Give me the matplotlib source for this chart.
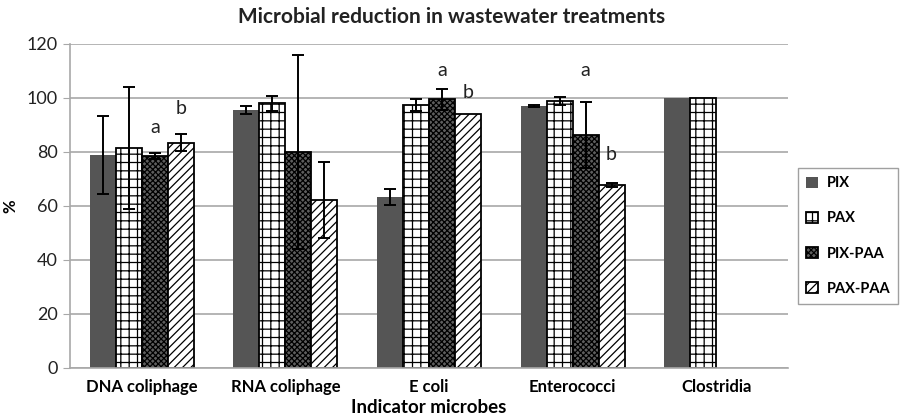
import numpy as np
import matplotlib
matplotlib.use("Agg")
import matplotlib.pyplot as plt

categories = ["DNA coliphage", "RNA coliphage", "E coli", "Enterococci", "Clostridia"]
series = ["PIX", "PAX", "PIX-PAA", "PAX-PAA"]
pix = [79, 95.6, 63.3, 97, 100]
pax = [81.5, 98, 97.5, 98.8, 100]
pix_paa = [78.5, 80, 99.5, 86.3, np.nan]
pax_paa = [83.5, 62.3, 94, 67.8, np.nan]
pix_err = [14.5, 1.4, 3.0, 0.5, 0]
pax_err = [22.6, 2.7, 2.3, 1.4, 0]
pix_paa_err = [1.2, 36, 3.8, 12.3, 0]
pax_paa_err = [3.2, 14, 0, 0.8, 0]
annot_labels = [("a", 0, 2, 86), ("b", 0, 3, 93), ("a", 2, 2, 107), ("b", 2, 3, 99),
                ("a", 3, 2, 107), ("b", 3, 3, 76)]

plt.rcParams['font.family'] = ['Lato', 'DejaVu Sans']
plt.rcParams['hatch.linewidth'] = 0.9

fig = plt.figure(figsize=(9.03, 4.18), dpi=100)
ax = fig.add_axes([70/903, 50/418, 718/903, 324/418])

x = np.arange(len(categories))
w = 0.181
vals = [pix, pax, pix_paa, pax_paa]
errs = [pix_err, pax_err, pix_paa_err, pax_paa_err]
styles = [
    dict(color="#555555", edgecolor="none", hatch=None),
    dict(color="white", edgecolor="black", hatch="++"),
    dict(color="#5e5e5e", edgecolor="black", hatch="xxxxxx"),
    dict(color="white", edgecolor="black", hatch="////"),
]
handles = []
for i, (v, e, st) in enumerate(zip(vals, errs, styles)):
    pos = x + (i - 1.5) * w
    b = ax.bar(pos, v, width=w, color=st["color"], edgecolor=st["edgecolor"],
               hatch=st["hatch"], linewidth=1.3, label=series[i], zorder=2)
    handles.append(b)
    ev = np.array(v, dtype=float)
    ee = np.array(e, dtype=float)
    mask = (~np.isnan(ev)) & (ee > 0)
    ax.errorbar(pos[mask], ev[mask], yerr=ee[mask], fmt="none", ecolor="black",
                elinewidth=1.4, capsize=4, capthick=1.4, zorder=3)

for txt, ci, si, yv in annot_labels:
    ax.text(x[ci] + (si - 1.5) * w, yv, txt, ha="center", va="bottom", fontsize=14,
            color="#222222", zorder=4)

ax.set_xlim(-0.5, len(categories) - 0.5)
ax.set_ylim(0, 120)
ax.set_yticks(np.arange(0, 121, 20))
ax.yaxis.grid(True, color="#a8a8a8", linewidth=1.2, zorder=0)
ax.set_axisbelow(True)
ax.set_xticks(x)
ax.set_xticklabels(categories, fontsize=12, fontweight="bold")
ax.tick_params(axis="x", length=0, pad=8)
ax.tick_params(axis="y", length=5, color="#a8a8a8", labelsize=13, pad=4, labelcolor="#222222")
for s in ["top", "right"]:
    ax.spines[s].set_visible(False)
for s in ["left", "bottom"]:
    ax.spines[s].set_color("#a8a8a8")
    ax.spines[s].set_linewidth(1.2)

ax.set_xlabel("Indicator microbes", fontsize=13.5, fontweight="bold", labelpad=3)
ax.set_ylabel("%", fontsize=12, fontweight="bold")
ax.yaxis.set_label_coords(-52/718, 0.5)
fig.text(452/903, 1 - 17/418, "Microbial reduction in wastewater treatments",
         ha="center", va="center", fontsize=15, fontweight="bold", color="#222222")

leg = fig.legend(handles=handles, labels=series, loc="center left",
                 bbox_to_anchor=(798/903, 1 - 236/418),
                 prop=dict(weight="bold", size=10.5), frameon=True, fancybox=False,
                 edgecolor="#888888", handlelength=0.8, handleheight=0.8,
                 labelspacing=1.45, borderpad=0.55, handletextpad=0.6,
                 borderaxespad=0.0)
leg.get_frame().set_linewidth(1.0)

fig.savefig("out.png", dpi=100)
